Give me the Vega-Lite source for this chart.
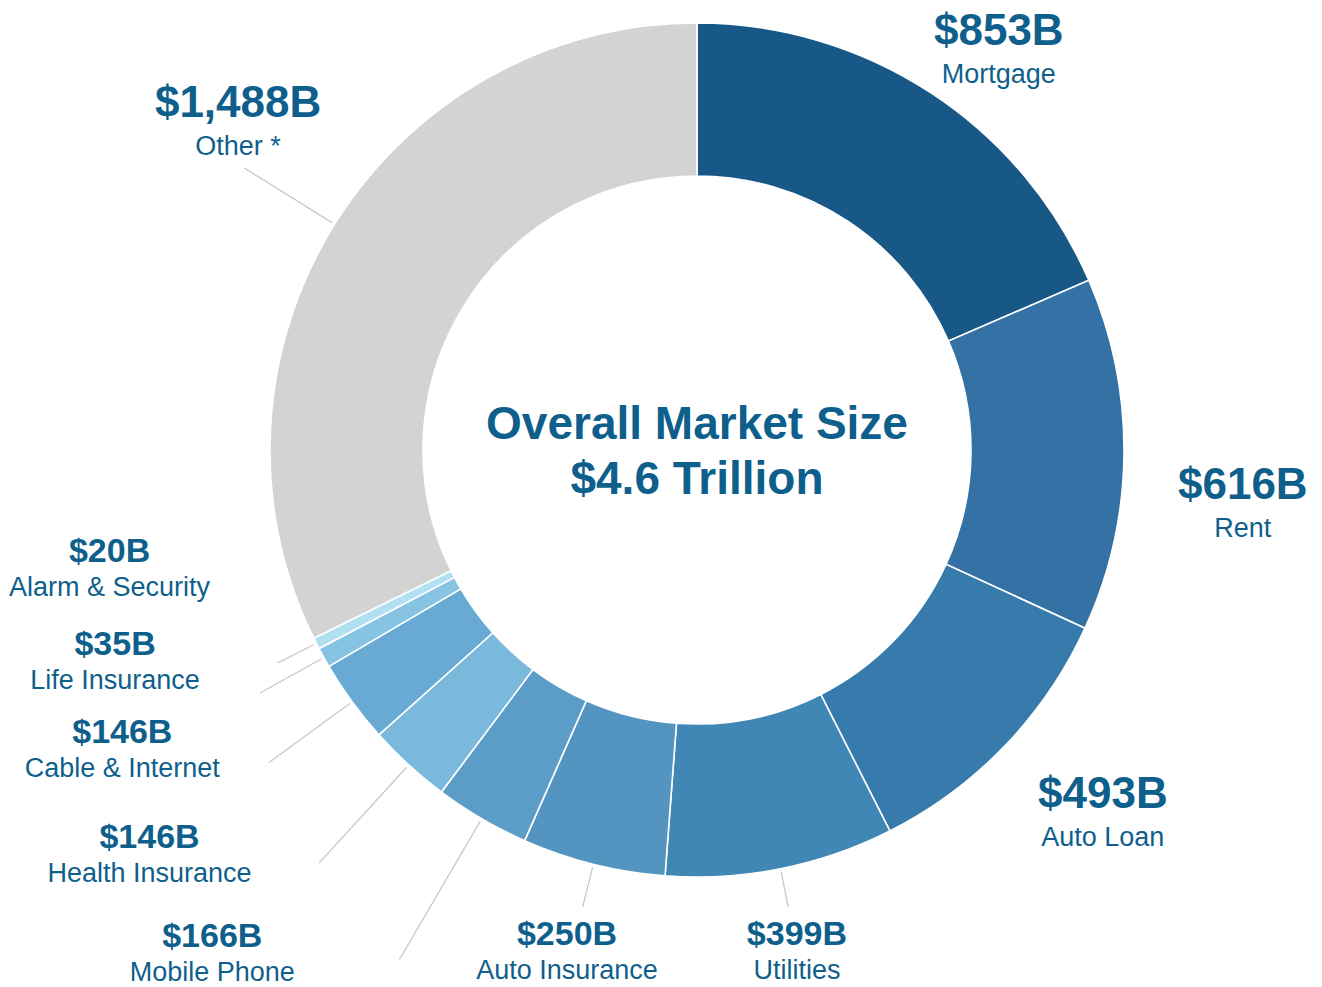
{
  "$schema": "https://vega.github.io/schema/vega-lite/v6.json",
  "width": 1250,
  "height": 900,
  "autosize": {"type": "none"},
  "padding": {"left": 72, "top": 0, "right": 0, "bottom": 87},
  "background": "white",
  "config": {
    "view": {"stroke": null},
    "locale": {"number": {"decimal": ".", "thousands": ",", "grouping": [3], "currency": ["$", "B"]}},
    "text": {"font": "Liberation Sans"}
  },
  "data": {
    "values": [
      {"category": "Mortgage", "value": 853},
      {"category": "Rent", "value": 616},
      {"category": "Auto Loan", "value": 493},
      {"category": "Utilities", "value": 399},
      {"category": "Auto Insurance", "value": 250},
      {"category": "Mobile Phone", "value": 166},
      {"category": "Health Insurance", "value": 146},
      {"category": "Cable & Internet", "value": 146},
      {"category": "Life Insurance", "value": 35},
      {"category": "Alarm & Security", "value": 20},
      {"category": "Other *", "value": 1488}
    ]
  },
  "transform": [{"window": [{"op": "row_number", "as": "idx"}]}],
  "layer": [
    {
      "mark": {"type": "arc", "radius": 427, "radius2": 274, "stroke": "white", "strokeWidth": 1.6},
      "encoding": {
        "theta": {"field": "value", "type": "quantitative", "stack": true},
        "order": {"field": "idx", "type": "quantitative"},
        "color": {
          "field": "category",
          "type": "nominal",
          "legend": null,
          "scale": {
            "domain": ["Mortgage", "Rent", "Auto Loan", "Utilities", "Auto Insurance", "Mobile Phone", "Health Insurance", "Cable & Internet", "Life Insurance", "Alarm & Security", "Other *"],
            "range": ["#175887", "#3471a4", "#377bac", "#4187b5", "#5394c0", "#5b9dc7", "#7ab8dc", "#69aad4", "#87c3e2", "#b2e0f3", "#d3d3d3"]
          }
        }
      }
    },
    {
      "mark": {
        "type": "arc",
        "radius": {"expr": "({'Mortgage': 430, 'Rent': 430, 'Auto Loan': 430, 'Utilities': 466, 'Auto Insurance': 471, 'Mobile Phone': 590, 'Health Insurance': 560, 'Cable & Internet': 530, 'Life Insurance': 500, 'Alarm & Security': 470, 'Other *': 533})[datum.category]"},
        "radius2": 430,
        "padAngle": 3.1416,
        "fill": "#c8c8c8",
        "stroke": "#c8c8c8",
        "strokeWidth": 1.3
      },
      "encoding": {
        "theta": {"field": "value", "type": "quantitative", "stack": true},
        "order": {"field": "idx", "type": "quantitative"},
        "detail": {"field": "category", "type": "nominal"}
      }
    },
    {
      "mark": {
        "type": "text",
        "font": "Liberation Sans",
        "fontWeight": "bold",
        "color": "#0f5f8c",
        "align": "center",
        "baseline": "alphabetic",
        "radius": {"expr": "({'Mortgage': 505, 'Rent': 548, 'Auto Loan': 541, 'Utilities': 505, 'Auto Insurance': 512, 'Mobile Phone': 694, 'Health Insurance': 677, 'Cable & Internet': 645, 'Life Insurance': 617, 'Alarm & Security': 598, 'Other *': 567})[datum.category]"},
        "thetaOffset": {"expr": "({'Mortgage': 0.0595, 'Rent': 0.0785, 'Auto Loan': -0.0438, 'Utilities': -0.0024, 'Auto Insurance': 0.0115, 'Mobile Phone': 0.2447, 'Health Insurance': 0.2007, 'Cable & Internet': 0.1595, 'Life Insurance': 0.1688, 'Alarm & Security': 0.2815, 'Other *': 0.0705})[datum.category]"}
      },
      "encoding": {
        "theta": {"field": "value", "type": "quantitative", "stack": true},
        "order": {"field": "idx", "type": "quantitative"},
        "detail": {"field": "category", "type": "nominal"},
        "text": {"field": "value", "type": "quantitative", "format": "$,"},
        "size": {"condition": {"test": "datum.value > 450", "value": 44}, "value": 34}
      }
    },
    {
      "mark": {
        "type": "text",
        "font": "Liberation Sans",
        "fontSize": 27,
        "color": "#0f5f8c",
        "align": "center",
        "baseline": "alphabetic",
        "dy": {"expr": "datum.value > 450 ? 38 : 34"},
        "radius": {"expr": "({'Mortgage': 505, 'Rent': 548, 'Auto Loan': 541, 'Utilities': 505, 'Auto Insurance': 512, 'Mobile Phone': 694, 'Health Insurance': 677, 'Cable & Internet': 645, 'Life Insurance': 617, 'Alarm & Security': 598, 'Other *': 567})[datum.category]"},
        "thetaOffset": {"expr": "({'Mortgage': 0.0595, 'Rent': 0.0785, 'Auto Loan': -0.0438, 'Utilities': -0.0024, 'Auto Insurance': 0.0115, 'Mobile Phone': 0.2447, 'Health Insurance': 0.2007, 'Cable & Internet': 0.1595, 'Life Insurance': 0.1688, 'Alarm & Security': 0.2815, 'Other *': 0.0705})[datum.category]"}
      },
      "encoding": {
        "theta": {"field": "value", "type": "quantitative", "stack": true},
        "order": {"field": "idx", "type": "quantitative"},
        "detail": {"field": "category", "type": "nominal"},
        "text": {"field": "category", "type": "nominal"}
      }
    },
    {
      "transform": [{"aggregate": [{"op": "sum", "field": "value", "as": "total"}]}],
      "mark": {
        "type": "text",
        "text": ["Overall Market Size", "$4.6 Trillion"],
        "font": "Liberation Sans",
        "fontWeight": "bold",
        "fontSize": 46,
        "color": "#0f5f8c",
        "align": "center",
        "baseline": "alphabetic",
        "lineHeight": 55,
        "dy": -11
      }
    }
  ]
}
